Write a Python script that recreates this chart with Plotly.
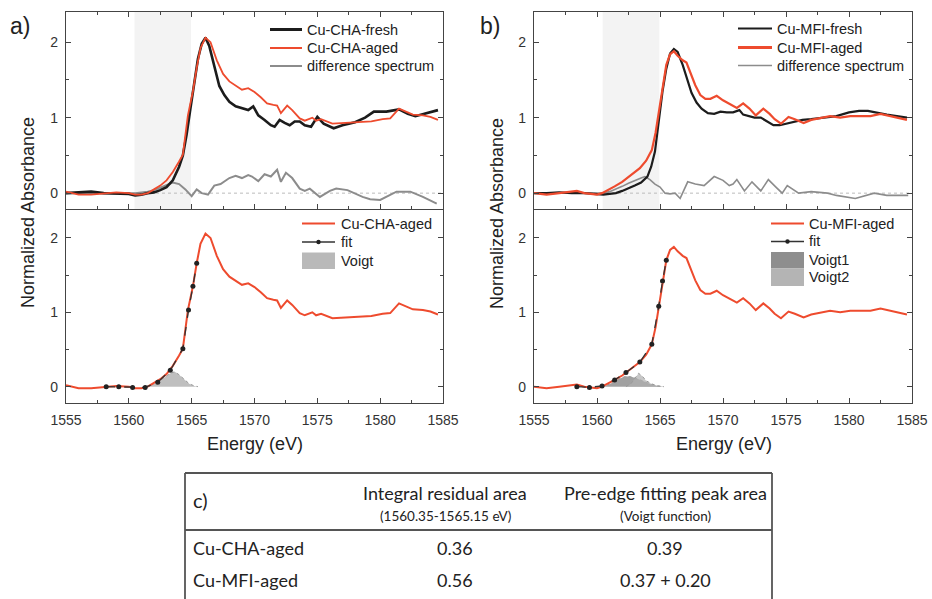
import plotly.graph_objects as go

W, H = 932, 599

# ---------------- data ----------------
# Panel a) Cu-CHA
cha_fresh_E = [1555, 1556, 1557, 1558, 1559, 1560, 1560.5, 1561, 1561.5, 1562, 1562.5, 1563, 1563.5, 1564,
               1564.3, 1564.6, 1564.9, 1565.2, 1565.5, 1565.8, 1566.1, 1566.4, 1566.8, 1567.2, 1567.6, 1568,
               1568.5, 1569, 1569.5, 1569.9, 1570.3, 1570.8, 1571.3, 1571.6, 1572, 1572.4, 1572.8, 1573.2,
               1573.6, 1574, 1574.5, 1575, 1575.5, 1576.3, 1577, 1578, 1578.8, 1579.5, 1580.5, 1581.5, 1582.2,
               1582.8, 1583.5, 1584.6]
cha_fresh = [0.0, 0.01, 0.02, 0.0, 0.0, -0.01, -0.03, -0.02, 0.0, 0.01, 0.04, 0.08, 0.17, 0.35,
             0.5, 0.78, 1.12, 1.48, 1.78, 1.98, 2.06, 1.95, 1.7, 1.42, 1.3, 1.21,
             1.15, 1.12, 1.1, 1.15, 1.03, 0.97, 0.9, 0.88, 0.97, 0.93, 0.9, 0.95,
             0.95, 0.9, 0.88, 1.01, 0.92, 0.86, 0.9, 0.94, 1.0, 1.08, 1.08, 1.11, 1.05,
             1.02, 1.05, 1.1]

cha_aged_E = [1555, 1555.5, 1556, 1557, 1558, 1559, 1560, 1560.5, 1561, 1561.5, 1562, 1562.5, 1563, 1563.5,
              1564, 1564.3, 1564.7, 1565.1, 1565.4, 1565.7, 1566.1, 1566.5, 1567, 1567.5, 1568, 1568.6, 1569,
              1569.5, 1570, 1570.5, 1571, 1571.5, 1571.8, 1572.1, 1572.6, 1573, 1573.6, 1574, 1574.6, 1574.9,
              1575.3, 1576.2, 1577, 1578.4, 1579.3, 1580.2, 1580.8, 1581.5, 1582, 1582.6, 1583.4, 1584, 1584.6]
cha_aged = [0.02, 0.0, -0.02, -0.02, 0.0, 0.01, 0.0, -0.02, -0.02, 0.0, 0.05, 0.1, 0.17, 0.28,
            0.42, 0.51, 1.03, 1.35, 1.66, 1.92, 2.06, 2.0, 1.76, 1.58, 1.48, 1.41, 1.37,
            1.39, 1.34, 1.27, 1.19, 1.17, 1.16, 1.06, 1.16, 1.1, 0.99, 0.96, 1.0, 0.96,
            0.98, 0.92, 0.93, 0.94, 0.95, 0.98, 0.99, 1.12, 1.08, 1.04, 1.03, 1.01, 0.97]

cha_diff_E = [1555, 1557, 1559, 1560.5, 1561, 1561.5, 1562, 1562.5, 1563, 1563.5, 1564, 1564.5, 1565, 1565.4,
              1565.8, 1566.3, 1566.8, 1567.3, 1568, 1568.5, 1569, 1569.5, 1569.8, 1570.3, 1570.8, 1571.3,
              1571.8, 1572.1, 1572.5, 1573, 1573.6, 1574, 1574.4, 1575.2, 1576, 1576.5, 1577.4, 1578.6, 1579.2,
              1580, 1581.3, 1582.4, 1583.4, 1584.5]
cha_diff = [0.0, 0.0, 0.0, 0.0, 0.01, 0.02, 0.04, 0.07, 0.1, 0.14, 0.12, 0.05, -0.04, 0.05,
            0.0, -0.02, 0.1, 0.12, 0.2, 0.23, 0.2, 0.24, 0.22, 0.16, 0.25, 0.22,
            0.31, 0.15, 0.27, 0.2, 0.06, 0.03, 0.06, -0.05, 0.03, 0.06, 0.04, -0.05, -0.08,
            -0.09, 0.02, 0.02, -0.05, -0.14]

cha_fit_E = [1558.2, 1559.2, 1560.3, 1561.3, 1562.3, 1563.3, 1564.3, 1564.75, 1565.1, 1565.4]
cha_fit = [0.0, 0.0, -0.01, -0.01, 0.06, 0.22, 0.51, 1.03, 1.35, 1.66]

cha_voigt_E = [1561.3, 1561.8, 1562.3, 1562.8, 1563.3, 1563.65, 1564.0, 1564.4, 1564.8, 1565.2, 1565.5]
cha_voigt = [0.0, 0.02, 0.06, 0.12, 0.18, 0.2, 0.16, 0.1, 0.04, 0.01, 0.0]

# Panel b) Cu-MFI
mfi_fresh_E = [1555, 1556, 1557, 1558, 1559, 1560, 1560.5, 1561, 1561.5, 1562, 1562.5, 1563, 1563.5, 1564,
               1564.3, 1564.6, 1564.9, 1565.2, 1565.5, 1565.8, 1566.1, 1566.4, 1566.8, 1567.1, 1567.5,
               1567.9, 1568.3, 1568.8, 1569.3, 1569.8, 1570.3, 1570.8, 1571.3, 1571.6, 1572, 1572.5, 1573,
               1573.5, 1574, 1574.5, 1575, 1575.5, 1576.3, 1577, 1578, 1579, 1580, 1580.8, 1581.5, 1582.3,
               1583, 1583.8, 1584.6]
mfi_fresh = [0.0, 0.0, 0.01, 0.0, 0.0, -0.01, -0.02, -0.01, 0.0, 0.03, 0.06, 0.1, 0.14, 0.22,
             0.35, 0.55, 0.95, 1.35, 1.65, 1.85, 1.91, 1.87, 1.7, 1.53, 1.33,
             1.2, 1.12, 1.06, 1.05, 1.08, 1.07, 1.07, 1.1, 1.04, 1.02, 1.0, 1.0,
             0.95, 0.9, 0.9, 0.92, 0.93, 0.97, 0.98, 1.0, 1.02, 1.07, 1.09, 1.09, 1.06,
             1.04, 1.02, 1.0]

mfi_aged_E = [1555, 1555.5, 1556, 1557, 1557.8, 1558.4, 1559, 1559.4, 1560, 1560.4, 1561, 1561.4, 1562, 1562.3,
              1562.9, 1563.4, 1563.9, 1564.35, 1564.65, 1564.9, 1565.2, 1565.5, 1565.8, 1566.1, 1566.4,
              1566.8, 1567.1, 1567.4, 1567.8, 1568.2, 1568.6, 1569, 1569.5, 1570, 1570.5, 1571.1, 1571.6,
              1572.1, 1572.6, 1573.2, 1573.7, 1574.1, 1574.6, 1575.2, 1575.7, 1576.4, 1577, 1577.8, 1578.5,
              1579.3, 1580.1, 1580.9, 1581.7, 1582.5, 1583.2, 1583.8, 1584.6]
mfi_aged = [0.0, -0.01, -0.02, 0.0, 0.02, 0.03, 0.0, -0.01, -0.02, 0.0, 0.05, 0.09, 0.15, 0.19,
            0.26, 0.33, 0.43, 0.57, 0.8, 1.08, 1.42, 1.7, 1.84, 1.88, 1.82,
            1.76, 1.73, 1.6, 1.43, 1.3, 1.25, 1.25, 1.29, 1.23, 1.18, 1.13, 1.19,
            1.12, 1.03, 1.12, 1.05, 0.98, 0.92, 1.01, 0.98, 0.93, 0.97, 1.0, 1.02,
            1.0, 1.02, 1.02, 1.02, 1.05, 1.02, 1.0, 0.97]

mfi_diff_E = [1555, 1557, 1559, 1560.5, 1561, 1561.5, 1562, 1562.5, 1563, 1563.5, 1563.8, 1564.2, 1564.6, 1565,
              1565.4, 1565.8, 1566.2, 1566.6, 1567.2, 1567.8, 1568.5, 1569.3, 1570, 1570.5, 1570.8, 1571.1,
              1571.7, 1572.3, 1573, 1573.6, 1574.2, 1574.7, 1575.1, 1576, 1577, 1578.3, 1579, 1580.5, 1582,
              1583, 1584.7]
mfi_diff = [0.0, 0.0, 0.0, 0.0, 0.02, 0.05, 0.09, 0.13, 0.17, 0.2, 0.22, 0.18, 0.12, 0.08,
            0.0, -0.01, 0.0, -0.07, 0.15, 0.12, 0.1, 0.22, 0.17, 0.1, 0.12, 0.18,
            0.03, 0.15, 0.03, 0.18, 0.08, 0.0, 0.1, 0.0, 0.02, 0.0, -0.03, -0.07, 0.0,
            -0.03, -0.03]

mfi_fit_E = [1558.4, 1559.4, 1560.4, 1561.4, 1562.3, 1563.4, 1564.35, 1564.9, 1565.2, 1565.5]
mfi_fit = [0.0, -0.01, 0.01, 0.09, 0.19, 0.33, 0.57, 1.08, 1.42, 1.7]

mfi_voigt1_E = [1560.3, 1560.8, 1561.3, 1561.8, 1562.3, 1562.8, 1563.3, 1563.8, 1564.3, 1564.8, 1565.3]
mfi_voigt1 = [0.0, 0.02, 0.06, 0.11, 0.14, 0.13, 0.1, 0.06, 0.03, 0.01, 0.0]
mfi_voigt2_E = [1562.3, 1562.7, 1563.0, 1563.3, 1563.6, 1563.9, 1564.3, 1564.8, 1565.3]
mfi_voigt2 = [0.0, 0.04, 0.11, 0.18, 0.14, 0.08, 0.04, 0.01, 0.0]

shade_range = [1560.45, 1564.95]

table_header = ["c)", "Integral residual area", "Pre-edge fitting peak area"]
table_sub = ["", "(1560.35-1565.15 eV)", "(Voigt function)"]
table_rows = [["Cu-CHA-aged", "0.36", "0.39"],
              ["Cu-MFI-aged", "0.56", "0.37 + 0.20"]]

# ---------------- style ----------------
RED = '#ee4b2e'
BLACK = '#1c1c1c'
GREY = '#8c8c8c'
FONT = 'Liberation Sans, Arial, sans-serif'
TFONT = 'Lato, Open Sans, sans-serif'
LEGSIZE = 14.5


def X(p):
    return p / W


def Y(p):
    return 1 - p / H


fig = go.Figure()


def line(xs, ys, color, width, xa, ya, dash='solid'):
    fig.add_trace(go.Scatter(x=xs, y=ys, mode='lines', line=dict(color=color, width=width, dash=dash),
                             xaxis=xa, yaxis=ya, showlegend=False, hoverinfo='skip'))


def fill(xs, ys, color, xa, ya):
    fig.add_trace(go.Scatter(x=xs, y=ys, mode='lines', fill='tozeroy', fillcolor=color,
                             line=dict(color='#9a9a9a', width=1, dash='dot'),
                             xaxis=xa, yaxis=ya, showlegend=False, hoverinfo='skip'))


def fitline(xs, ys, xa, ya):
    fig.add_trace(go.Scatter(x=xs, y=ys, mode='lines+markers',
                             line=dict(color='#333333', width=1.3, dash='dash'),
                             marker=dict(color='#222222', size=5),
                             xaxis=xa, yaxis=ya, showlegend=False, hoverinfo='skip'))


# a upper
line(cha_diff_E, cha_diff, GREY, 2, 'x', 'y')
line(cha_fresh_E, cha_fresh, BLACK, 2.6, 'x', 'y')
line(cha_aged_E, cha_aged, RED, 1.8, 'x', 'y')
# a lower
fill(cha_voigt_E, cha_voigt, 'rgba(170,170,170,0.75)', 'x2', 'y2')
line(cha_aged_E, cha_aged, RED, 2, 'x2', 'y2')
fitline(cha_fit_E, cha_fit, 'x2', 'y2')
# b upper
line(mfi_diff_E, mfi_diff, GREY, 1.6, 'x3', 'y3')
line(mfi_fresh_E, mfi_fresh, BLACK, 2.2, 'x3', 'y3')
line(mfi_aged_E, mfi_aged, RED, 2.2, 'x3', 'y3')
# b lower
fill(mfi_voigt1_E, mfi_voigt1, 'rgba(130,130,130,0.75)', 'x4', 'y4')
fill(mfi_voigt2_E, mfi_voigt2, 'rgba(175,175,175,0.7)', 'x4', 'y4')
line(mfi_aged_E, mfi_aged, RED, 2, 'x4', 'y4')
fitline(mfi_fit_E, mfi_fit, 'x4', 'y4')

xa_dom = [X(66), X(443)]
xb_dom = [X(534), X(912)]
up_dom = [Y(209), Y(12)]
lo_dom = [Y(403), Y(209)]

axcommon = dict(showline=True, linecolor='#444', linewidth=1.3, mirror='ticks', ticks='inside',
                ticklen=5, tickwidth=1.2, tickcolor='#444', showgrid=False, zeroline=False,
                automargin=False, tickfont=dict(family=FONT, size=14, color='#333'))


def xax(dom, anchor, labels, mirror):
    d = dict(axcommon)
    d.update(domain=dom, anchor=anchor, range=[1555, 1585], tickmode='array',
             tickvals=[1555, 1560, 1565, 1570, 1575, 1580, 1585], showticklabels=labels, mirror=mirror,
             minor=dict(tickvals=[1557.5, 1562.5, 1567.5, 1572.5, 1577.5, 1582.5], ticks='inside',
                        ticklen=3, tickcolor='#444'), ticklabelstandoff=4)
    return d


def yax(dom, anchor, rng):
    d = dict(axcommon)
    d.update(domain=dom, anchor=anchor, range=rng, tickmode='array', tickvals=[0, 1, 2],
             minor=dict(tickvals=[0.5, 1.5], ticks='inside', ticklen=3, tickcolor='#444'),
             ticklabelstandoff=4)
    return d


layout = dict(
    width=W, height=H, margin=dict(l=0, r=0, t=0, b=0, autoexpand=False),
    paper_bgcolor='white', plot_bgcolor='rgba(0,0,0,0)', showlegend=False,
    xaxis=xax(xa_dom, 'y', False, 'ticks'), yaxis=yax(up_dom, 'x', [-0.21, 2.4]),
    xaxis2=xax(xa_dom, 'y2', True, False), yaxis2=yax(lo_dom, 'x2', [-0.22, 2.39]),
    xaxis3=xax(xb_dom, 'y3', False, 'ticks'), yaxis3=yax(up_dom, 'x3', [-0.21, 2.4]),
    xaxis4=xax(xb_dom, 'y4', True, False), yaxis4=yax(lo_dom, 'x4', [-0.22, 2.39]),
)
fig.update_layout(**layout)

shapes = []
annotations = []

# shaded regions and zero lines on upper panels
for xr, yr in [('x', 'y'), ('x3', 'y3')]:
    shapes.append(dict(type='rect', xref=xr, yref=yr + ' domain', x0=shade_range[0], x1=shade_range[1],
                       y0=0, y1=1, fillcolor='#f3f3f3', line=dict(width=0), layer='below'))
    shapes.append(dict(type='line', xref=xr + ' domain', yref=yr, x0=0, x1=1, y0=0, y1=0,
                       line=dict(color='#bbbbbb', width=1, dash='dot'), layer='below'))


def leg_line(x0, x1, y, color, width, text, tx, dot=False, dash='solid'):
    shapes.append(dict(type='line', xref='paper', yref='paper', x0=X(x0), x1=X(x1), y0=Y(y), y1=Y(y),
                       line=dict(color=color, width=width, dash=dash)))
    if dot:
        shapes.append(dict(type='circle', xref='paper', yref='paper',
                           x0=X((x0 + x1) / 2 - 2.2), x1=X((x0 + x1) / 2 + 2.2), y0=Y(y + 2.2), y1=Y(y - 2.2),
                           fillcolor='#222', line=dict(width=0)))
    annotations.append(dict(xref='paper', yref='paper', x=X(tx), y=Y(y), text=text, showarrow=False,
                            xanchor='left', yanchor='middle', font=dict(family=FONT, size=LEGSIZE, color='#222')))


def leg_rect(x0, x1, y0, y1, color, text, tx):
    shapes.append(dict(type='rect', xref='paper', yref='paper', x0=X(x0), x1=X(x1), y0=Y(y1), y1=Y(y0),
                       fillcolor=color, line=dict(width=0)))
    annotations.append(dict(xref='paper', yref='paper', x=X(tx), y=Y((y0 + y1) / 2), text=text,
                            showarrow=False, xanchor='left', yanchor='middle',
                            font=dict(family=FONT, size=LEGSIZE, color='#222')))


# legends a
leg_line(270, 302, 29.5, BLACK, 3, 'Cu-CHA-fresh', 305)
leg_line(270, 302, 48, RED, 2, 'Cu-CHA-aged', 305)
leg_line(270, 302, 66, GREY, 2, 'difference spectrum', 305)
leg_line(302, 335, 223.5, RED, 2, 'Cu-CHA-aged', 339)
leg_line(302, 335, 242, '#333', 1.5, 'fit', 339, dot=True)
leg_rect(302, 335, 252.5, 269, '#b9b9b9', 'Voigt', 339)
# legends b
leg_line(738, 772, 28.5, BLACK, 2.2, 'Cu-MFI-fresh', 775)
leg_line(738, 772, 47.5, RED, 3, 'Cu-MFI-aged', 775)
leg_line(738, 772, 65.5, GREY, 1.5, 'difference spectrum', 775)
leg_line(771, 804, 223.5, RED, 2.2, 'Cu-MFI-aged', 807)
leg_line(771, 804, 241.5, '#333', 1.5, 'fit', 807, dot=True)
leg_rect(771, 804, 252, 268.5, '#8e8e8e', 'Voigt1', 807)
leg_rect(771, 804, 268.5, 286, '#b4b4b4', 'Voigt2', 807)

# panel labels and axis titles
for txt, x, y in [('a)', 20, 26), ('b)', 490, 26)]:
    annotations.append(dict(xref='paper', yref='paper', x=X(x), y=Y(y), text=txt, showarrow=False,
                            xanchor='center', yanchor='middle', font=dict(family=FONT, size=23, color='#222')))
for x in [28, 497]:
    annotations.append(dict(xref='paper', yref='paper', x=X(x), y=Y(213), text='Normalized Absorbance',
                            textangle=-90, showarrow=False, xanchor='center', yanchor='middle',
                            font=dict(family=FONT, size=18, color='#222')))
for x in [255, 724]:
    annotations.append(dict(xref='paper', yref='paper', x=X(x), y=Y(444), text='Energy (eV)',
                            showarrow=False, xanchor='center', yanchor='middle',
                            font=dict(family=FONT, size=18, color='#222')))

# table c)
TL, TR, TT, TD = 185, 772, 473, 530
tline = dict(color='#555', width=1.8)
shapes.append(dict(type='line', xref='paper', yref='paper', x0=X(TL), x1=X(TR), y0=Y(TT), y1=Y(TT), line=tline))
shapes.append(dict(type='line', xref='paper', yref='paper', x0=X(TL), x1=X(TR), y0=Y(TD), y1=Y(TD), line=tline))
shapes.append(dict(type='line', xref='paper', yref='paper', x0=X(TL), x1=X(TL), y0=Y(TT), y1=0, line=tline))
shapes.append(dict(type='line', xref='paper', yref='paper', x0=X(TR), x1=X(TR), y0=Y(TT), y1=0, line=tline))

col_x = [191, 445, 665]
annotations.append(dict(xref='paper', yref='paper', x=X(col_x[0]), y=Y(500), text=table_header[0],
                        showarrow=False, xanchor='left', yanchor='middle',
                        font=dict(family=TFONT, size=20, color='#222')))
for i in (1, 2):
    annotations.append(dict(xref='paper', yref='paper', x=X(col_x[i]), y=Y(493), text=table_header[i],
                            showarrow=False, xanchor='center', yanchor='middle',
                            font=dict(family=TFONT, size=18, color='#222')))
    annotations.append(dict(xref='paper', yref='paper', x=X(col_x[i]), y=Y(516), text=table_sub[i],
                            showarrow=False, xanchor='center', yanchor='middle',
                            font=dict(family=TFONT, size=13.5, color='#222')))
for r, yy in zip(table_rows, [548, 580]):
    annotations.append(dict(xref='paper', yref='paper', x=X(col_x[0]), y=Y(yy), text=r[0],
                            showarrow=False, xanchor='left', yanchor='middle',
                            font=dict(family=TFONT, size=18, color='#222')))
    for i in (1, 2):
        annotations.append(dict(xref='paper', yref='paper', x=X(col_x[i] + (10 if i == 1 else 0)), y=Y(yy),
                                text=r[i], showarrow=False, xanchor='center', yanchor='middle',
                                font=dict(family=TFONT, size=18, color='#222')))

fig.update_layout(shapes=shapes, annotations=annotations)
fig.write_html('out.html', config={'displayModeBar': False},
               post_script="document.body.style.margin='0';document.body.style.padding='0';")
